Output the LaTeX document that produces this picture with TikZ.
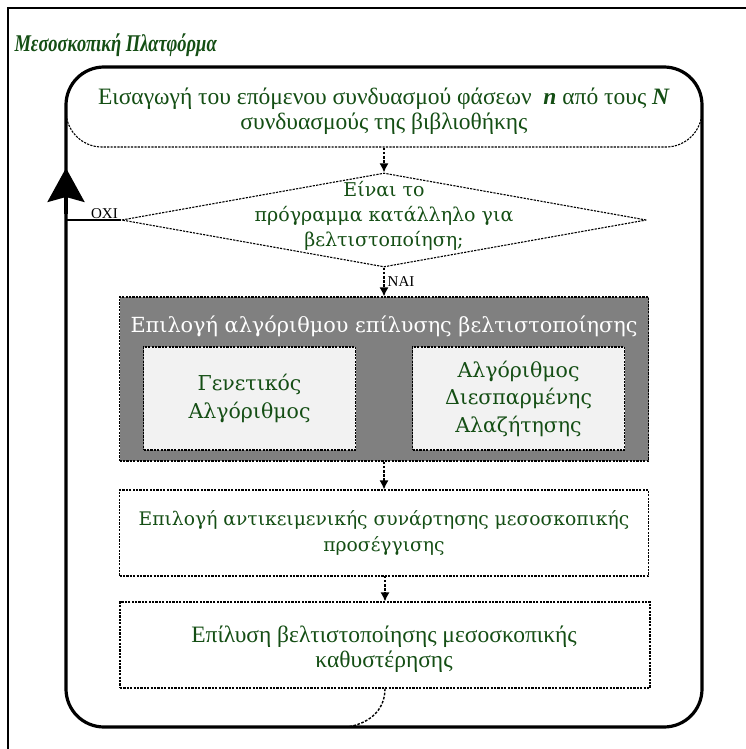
\documentclass[tikz,border=0pt]{standalone}
\usepackage{fontspec}
\setmainfont{Liberation Serif}
\newfontfamily\widefont{DejaVu Serif}
\usetikzlibrary{shapes.geometric,arrows.meta}
\definecolor{txtgreen}{RGB}{20,78,20}
\definecolor{panelgray}{RGB}{128,128,128}
\definecolor{cellgray}{RGB}{242,242,242}
\begin{document}
\begin{tikzpicture}[x=1pt,y=-1pt,
  dotbox/.style={draw, line width=1.1pt, dash pattern=on 2.2pt off 1.2pt, inner sep=0pt},
  flow/.style={line width=1.4pt, dash pattern=on 2.6pt off 1.6pt,
    -{Latex[length=9pt,width=9pt]}},
  narrowtext/.style={text=txtgreen, align=center, font=\fontsize{23.5}{25}\selectfont},
  widetext/.style={text=txtgreen, align=center, font=\widefont\fontsize{19}{25}\selectfont},
  answer/.style={font=\fontsize{15}{17}\selectfont, inner sep=1pt},
  loopline/.style={line width=3.2pt}]
\useasboundingbox (0,0) rectangle (746,749);

% page frame (top and left edges)
\draw[line width=1.3pt] (8,749) -- (8,8) -- (746,8);

\node[anchor=west, text=txtgreen, font=\bfseries\itshape\fontsize{24}{26}\selectfont]
  (title) at (11,45) {\scalebox{0.77}[1]{Μεσοσκοπική Πλατφόρμα}};

% first step, sharing the top of the loop
\node[dotbox, rounded corners=36pt, minimum width=636pt, minimum height=80pt]
  (intro) at (384,107) {};
\node[narrowtext] (introtext) at (384,111)
  {Εισαγωγή του επόμενου συνδυασμού φάσεων \ \textbf{\textit{n}} από τους \textbf{\textit{N}}\\
   συνδυασμούς της βιβλιοθήκης};

% decision
\node[dotbox, diamond, minimum width=525pt, minimum height=94pt] (check) at (384,220) {};
\node[widetext] (checktext) at (384,216)
  {Είναι το\\πρόγραμμα κατάλληλο για\\βελτιστοποίηση;};

% algorithm selection panel
\node[dotbox, fill=panelgray, minimum width=529pt, minimum height=164pt] (algo) at (384,379) {};
\node[widetext, text=white, font=\widefont\fontsize{20.8}{24}\selectfont] (algotitle) at (384,326)
  {Επιλογή αλγόριθμου επίλυσης βελτιστοποίησης};
\node[dotbox, fill=cellgray, minimum width=212pt, minimum height=103pt, widetext,
  font=\widefont\fontsize{20.5}{27.5}\selectfont] (ga) at (249.5,398.5)
  {Γενετικός\\Αλγόριθμος};
\node[dotbox, fill=cellgray, minimum width=212pt, minimum height=103pt, widetext,
  font=\widefont\fontsize{20.5}{27.5}\selectfont] (ss) at (518.5,398.5)
  {Αλγόριθμος\\Διεσπαρμένης\\Αλαζήτησης};

% objective function and solution
\node[dotbox, minimum width=529pt, minimum height=86pt, widetext,
  font=\widefont\fontsize{18.7}{26}\selectfont] (objective) at (384,533)
  {Επιλογή αντικειμενικής συνάρτησης μεσοσκοπικής\\προσέγγισης};
\node[dotbox, minimum width=530pt, minimum height=86pt] (solve) at (385,645) {};
\node[narrowtext] (solvetext) at (384,649)
  {Επίλυση βελτιστοποίησης μεσοσκοπικής\\καθυστέρησης};

% outer loop
\draw[loopline, rounded corners=38pt] (66,67) rectangle (702,727);
\coordinate (loopjoin) at (66,220);
\coordinate (looptip) at (66,168);
\coordinate (loopentry) at (347,727);
\draw[loopline, -{Stealth[length=34pt,width=37pt,inset=5pt]}] (66,214) -- (looptip);

% connectors
\draw[flow] (intro.south) -- (check.north);
\draw[line width=1.1pt] (check.west) -- node[answer, pos=0.3, above] {ΟΧΙ} (loopjoin);
\draw[flow] (check.south) -- node[answer, right, xshift=2pt] {ΝΑΙ} (algo.north);
\draw[flow] (algo.south) -- (objective.north);
\draw[flow] (objective.south) -- (solve.north |- objective.south) -- (solve.north);
\draw[line width=1.4pt, dash pattern=on 2.6pt off 1.6pt]
  (solve.south) .. controls (385,712) and (367,724) .. (loopentry);
\end{tikzpicture}
\end{document}
